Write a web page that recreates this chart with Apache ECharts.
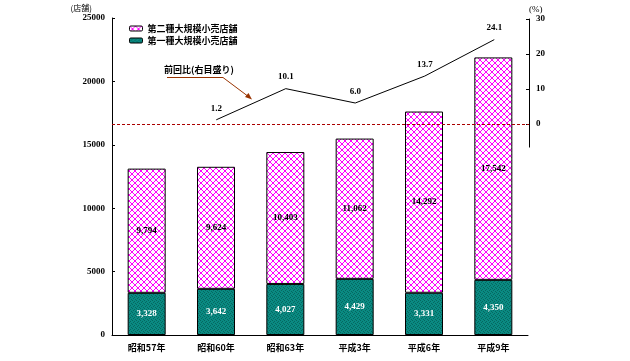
<!DOCTYPE html>
<html><head><meta charset="utf-8">
<script src="https://cdn.jsdelivr.net/npm/echarts@6/dist/echarts.min.js"></script>
<style>html,body{margin:0;padding:0;background:#fff}#c{width:630px;height:361px}</style>
</head><body><div id="c"></div>
<script>
var categories = ['昭和57年','昭和60年','昭和63年','平成3年','平成6年','平成9年'];
var type1 = [3328, 3642, 4027, 4429, 3331, 4350];
var type2 = [9794, 9624, 10403, 11062, 14292, 17542];
var ratio = [null, 1.2, 10.1, 6.0, 13.7, 24.1];
var leftTicks = [0, 5000, 10000, 15000, 20000, 25000];
var rightTicks = [0, 10, 20, 30];

function makePattern(){
  var c = document.createElement('canvas'); c.width = 6; c.height = 6;
  var g = c.getContext('2d'); g.fillStyle = '#fff'; g.fillRect(0,0,6,6);
  g.fillStyle = '#ff00ff';
  for (var i=0;i<6;i++){ g.fillRect(i,i,1,1); g.fillRect(i,5-i,1,1); }
  return c;
}
function makeTeal(){
  var c = document.createElement('canvas'); c.width = 4; c.height = 4;
  var g = c.getContext('2d'); g.fillStyle = '#0a8a82'; g.fillRect(0,0,4,4);
  g.fillStyle = '#056860';
  g.fillRect(0,0,1,1); g.fillRect(2,1,1,1); g.fillRect(1,2,1,1); g.fillRect(3,3,1,1);
  return c;
}
var pinkFill = {image: makePattern(), repeat: 'repeat'};
var tealFill = {image: makeTeal(), repeat: 'repeat'};
var fmt = function(v){ return v.toLocaleString('en-US'); };
var font = 'Liberation Serif';
var cjk = 'Noto Sans CJK JP';

var chart = echarts.init(document.getElementById('c'));
chart.setOption({
  animation: false,
  textStyle: {fontFamily: font},
  legend: {
    left: 124, top: 19, orient: 'vertical', itemWidth: 13, itemHeight: 5, itemGap: 3,
    textStyle: {fontFamily: cjk, fontSize: 9, color: '#000', fontWeight: 'bold'},
    data: [
      {name: '第二種大規模小売店舗', itemStyle: {color: pinkFill, borderColor: '#000', borderWidth: 1}},
      {name: '第一種大規模小売店舗', itemStyle: {color: tealFill, borderColor: '#000', borderWidth: 1}}
    ]
  },
  grid: [
    {left: 112, right: 102, top: 18, bottom: 26},
    {left: 112, right: 101, top: 19, height: 128.1}
  ],
  xAxis: [
    {type: 'category', data: categories, gridIndex: 0,
     axisLine: {lineStyle: {color: '#000', width: 1}},
     axisTick: {inside: true, length: 3, lineStyle: {color: '#000'}},
     axisLabel: {fontFamily: cjk, fontSize: 9, color: '#000', margin: 8, fontWeight: 'bold'}},
    {type: 'category', data: categories, gridIndex: 1, show: false}
  ],
  yAxis: [
    {type: 'value', gridIndex: 0, min: 0, max: 25000, interval: 5000,
     name: '(店舗)', nameLocation: 'end', nameGap: 6,
     nameTextStyle: {fontFamily: cjk, fontSize: 8, color: '#000', align: 'right', padding: [0, 20, 0, 0]},
     axisLine: {show: true, lineStyle: {color: '#000'}},
     axisTick: {show: true, inside: true, length: 3, lineStyle: {color: '#000'}},
     axisLabel: {fontSize: 9, color: '#000', margin: 7, fontWeight: 'bold',
       customValues: leftTicks, formatter: function(v){ return String(v); }},
     splitLine: {show: false}},
    {type: 'value', gridIndex: 1, position: 'right', min: -6.6, max: 30,
     name: '(%)', nameLocation: 'end', nameGap: 5,
     nameTextStyle: {fontSize: 9, color: '#000', align: 'left', padding: [0, 0, 0, 0]},
     axisLine: {show: true, lineStyle: {color: '#000'}},
     axisTick: {show: true, inside: true, length: 3, lineStyle: {color: '#000'}, customValues: rightTicks},
     axisLabel: {fontSize: 9, color: '#000', margin: 7, fontWeight: 'bold', customValues: rightTicks,
       formatter: function(v){ return String(v); }},
     splitLine: {show: false}}
  ],
  series: [
    {name: '第一種大規模小売店舗', type: 'bar', stack: 's', data: type1, barWidth: 38,
     xAxisIndex: 0, yAxisIndex: 0,
     itemStyle: {color: tealFill, borderColor: '#000', borderWidth: 1},
     label: {show: true, position: 'inside', color: '#fff', fontSize: 9, fontWeight: 'bold', formatter: function(p){return fmt(p.value);}}},
    {name: '第二種大規模小売店舗', type: 'bar', stack: 's', data: type2, barWidth: 38,
     xAxisIndex: 0, yAxisIndex: 0,
     itemStyle: {color: pinkFill, borderColor: '#000', borderWidth: 1},
     label: {show: true, position: 'inside', color: '#000', fontSize: 9, fontWeight: 'bold', formatter: function(p){return fmt(p.value);}}},
    {name: '前回比', type: 'line', data: ratio, xAxisIndex: 1, yAxisIndex: 1,
     showSymbol: true, symbol: 'circle', symbolSize: 0.1, z: 5,
     itemStyle: {color: '#000'},
     lineStyle: {color: '#000', width: 1},
     label: {show: true, position: 'top', distance: 7, color: '#000', fontSize: 9, fontWeight: 'bold',
       formatter: function(p){return p.value.toFixed(1);}},
     markLine: {silent: true, symbol: 'none', label: {show: false},
       lineStyle: {color: '#aa0000', type: [3, 2], width: 1},
       data: [{yAxis: 0}]}}
  ],
  graphic: [
    {type: 'text', left: 164, top: 65, style: {text: '前回比(右目盛り)', font: 'bold 9px "Noto Sans CJK JP"', fill: '#000'}},
    {type: 'polyline', shape: {points: [[167, 77.5], [223, 77.5], [249, 97]]}, style: {stroke: '#993300', lineWidth: 1, fill: null}},
    {type: 'polygon', shape: {points: [[252, 99.5], [245, 97], [248.5, 93]]}, style: {fill: '#993300'}}
  ]
});
</script></body></html>
